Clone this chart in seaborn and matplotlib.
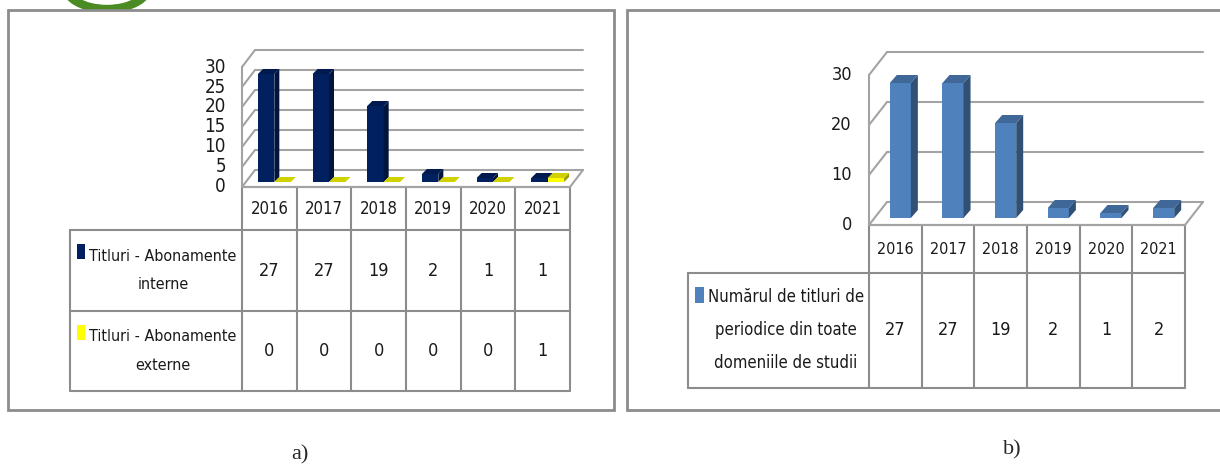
import matplotlib
matplotlib.use("Agg")
import numpy as np
import pandas as pd
import seaborn as sns
import matplotlib.pyplot as plt
from matplotlib.patches import Polygon, Rectangle, Arc
from matplotlib.lines import Line2D
from matplotlib.transforms import IdentityTransform
from matplotlib.colors import to_rgb

# data
years = ["2016", "2017", "2018", "2019", "2020", "2021"]
interne = [27, 27, 19, 2, 1, 1]
externe = [0, 0, 0, 0, 0, 1]
total = [27, 27, 19, 2, 1, 2]
series_a = ["Titluri - Abonamente\ninterne", "Titluri - Abonamente\nexterne"]
label_b = "Numărul de titluri de\nperiodice din toate\ndomeniile de studii"
ticks_a = [0, 5, 10, 15, 20, 25, 30]
ticks_b = [0, 10, 20, 30]

navy = "#002060"
yellow = "#ffff00"
blue = "#4f81bd"
grid_col = "#a3a3a3"
line_col = "#8c8c8c"
txt_col = "#1a1a1a"

sns.set_style("white")
plt.rcParams["font.family"] = ["DejaVu Sans"]
plt.rcParams["font.stretch"] = "condensed"

W, H = 1220, 470
fig = plt.figure(figsize=(W / 100, H / 100), dpi=100)

# background axes in image pixels (y down) for frames, tables, captions
bg = fig.add_axes([0, 0, 1, 1])
bg.set_xlim(0, W)
bg.set_ylim(H, 0)
bg.axis("off")


def axes_px(left, top, width, height):
    ax = fig.add_axes([left / W, (H - top - height) / H, width / W, height / H])
    ax.patch.set_alpha(0)
    return ax


def pt(ax, x, y, d=(0, 0)):
    X, Y = ax.transData.transform((x, y))
    return X + d[0], Y - d[1]


def seg(ax, p0, p1, color=grid_col, lw=1.5, z=1):
    ax.add_line(Line2D([p0[0], p1[0]], [p0[1], p1[1]], transform=IdentityTransform(),
                       color=color, lw=lw, clip_on=False, zorder=z))


def walls(ax, ticks, front, back):
    for v in ticks:
        seg(ax, pt(ax, -0.5, v, back), pt(ax, 5.5, v, back))
        seg(ax, pt(ax, -0.5, v, front), pt(ax, -0.5, v, back))
    seg(ax, pt(ax, -0.5, 0, front), pt(ax, -0.5, ticks[-1], front))
    seg(ax, pt(ax, -0.5, 0, front), pt(ax, 5.5, 0, front))
    seg(ax, pt(ax, 5.5, 0, front), pt(ax, 5.5, 0, back))


def shade(c, f):
    return tuple(np.clip(np.array(to_rgb(c)) * f, 0, 1))


def extrude(ax, depth, top_f, side_f):
    dx, dy = depth
    for i, bar in enumerate(ax.patches):
        z = 3 + i // 6
        bar.set_zorder(z)
        x0, w, h = bar.get_x(), bar.get_width(), bar.get_height()
        fc = bar.get_facecolor()
        fr, tl, tr = pt(ax, x0 + w, 0), pt(ax, x0, h), pt(ax, x0 + w, h)
        top = [tl, tr, (tr[0] + dx, tr[1] - dy), (tl[0] + dx, tl[1] - dy)]
        side = [fr, tr, (tr[0] + dx, tr[1] - dy), (fr[0] + dx, fr[1] - dy)]
        ax.add_patch(Polygon(side, closed=True, transform=IdentityTransform(),
                             facecolor=shade(fc, side_f), lw=0, clip_on=False, zorder=z))
        ax.add_patch(Polygon(top, closed=True, transform=IdentityTransform(),
                             facecolor=shade(fc, top_f), lw=0, clip_on=False, zorder=z))


def ylabels(ax, ticks, front, pad, size):
    for v in ticks:
        ax.annotate(str(v), xy=(-0.5, v), xytext=(front[0] - pad, -front[1]),
                    textcoords="offset pixels", ha="right", va="center",
                    fontsize=size, color=txt_col, annotation_clip=False)


def hline(y, x0, x1):
    bg.plot([x0, x1], [y, y], color=line_col, lw=1.5, zorder=2)


def vline(x, y0, y1):
    bg.plot([x, x], [y0, y1], color=line_col, lw=1.5, zorder=2)


def table(col_left, col_w, lab_left, head_top, rows, size):
    xs = [col_left + col_w * i for i in range(7)]
    hline(head_top, xs[0], xs[-1])
    for y in rows:
        hline(y, lab_left, xs[-1])
    vline(lab_left, rows[0], rows[-1])
    for x in xs:
        vline(x, head_top, rows[-1])
    for i, yr in enumerate(years):
        bg.text(xs[i] + col_w / 2, (head_top + rows[0]) / 2 + 1, yr, ha="center", va="center",
                fontsize=size, color=txt_col)
    return xs


# outer frames and the logo fragment peeking above panel a
bg.add_patch(Arc((107, -16), 86, 50, theta1=0, theta2=360, color="#4a8b23", lw=6, zorder=0))
bg.add_patch(Rectangle((8, 10), 606, 400, facecolor="white", edgecolor=line_col, lw=2, zorder=1))
bg.add_patch(Rectangle((627, 10), 620, 400, facecolor="white", edgecolor=line_col, lw=2, zorder=1))

# ---- panel a ----
df_a = pd.DataFrame({"year": years * 2,
                     "value": interne + externe,
                     "series": [series_a[0]] * 6 + [series_a[1]] * 6})
ax_a = axes_px(247, 62, 328, 120)
sns.barplot(data=df_a, x="year", y="value", hue="series", palette=[navy, yellow],
            width=0.6, saturation=1, linewidth=0, legend=False, ax=ax_a)
ax_a.set_xlim(-0.5, 5.5)
ax_a.set_ylim(0, 30)
ax_a.axis("off")
front_a, back_a = (-5, 5), (8, -12)
walls(ax_a, ticks_a, front_a, back_a)
extrude(ax_a, (5, -5), 0.82, 0.62)
ylabels(ax_a, ticks_a, front_a, 16, 13.5)

xs_a = table(242, 54.67, 70, 187, [230, 311, 391], 12)
for r, (vals, col) in enumerate([(interne, navy), (externe, yellow)]):
    top, bot = [230, 311, 391][r], [230, 311, 391][r + 1]
    bg.add_patch(Rectangle((77, top + 14), 8, 15, facecolor=col, lw=0, zorder=3))
    bg.text(163, (top + bot) / 2, series_a[r], ha="center", va="center", multialignment="center",
            fontsize=11.5, linespacing=2.1, color=txt_col)
    for i, v in enumerate(vals):
        bg.text(xs_a[i] + 54.67 / 2, (top + bot) / 2, str(v), ha="center", va="center",
                fontsize=13, color=txt_col)

# ---- panel b ----
ax_b = axes_px(874, 68, 316, 150)
sns.barplot(x=years, y=total, color=blue, width=0.4, saturation=1, linewidth=0, ax=ax_b)
ax_b.set_xlim(-0.5, 5.5)
ax_b.set_ylim(0, 30)
ax_b.axis("off")
front_b, back_b = (-5, 7), (13, -16)
walls(ax_b, ticks_b, front_b, back_b)
extrude(ax_b, (7, -8), 0.8, 0.62)
ylabels(ax_b, ticks_b, front_b, 17, 13)

xs_b = table(869, 52.67, 688, 225, [273, 388], 11.5)
bg.add_patch(Rectangle((695, 287), 9, 16, facecolor=blue, lw=0, zorder=3))
bg.text(786, 330, label_b, ha="center", va="center", multialignment="center",
        fontsize=12, linespacing=2.1, color=txt_col)
for i, v in enumerate(total):
    bg.text(xs_b[i] + 52.67 / 2, 330, str(v), ha="center", va="center", fontsize=13, color=txt_col)

# captions under the panels
bg.text(300, 455, "a)", ha="center", va="center", fontsize=16, family="Liberation Serif")
bg.text(1012, 450, "b)", ha="center", va="center", fontsize=16, family="Liberation Serif")

fig.savefig("out.png", dpi=100)
